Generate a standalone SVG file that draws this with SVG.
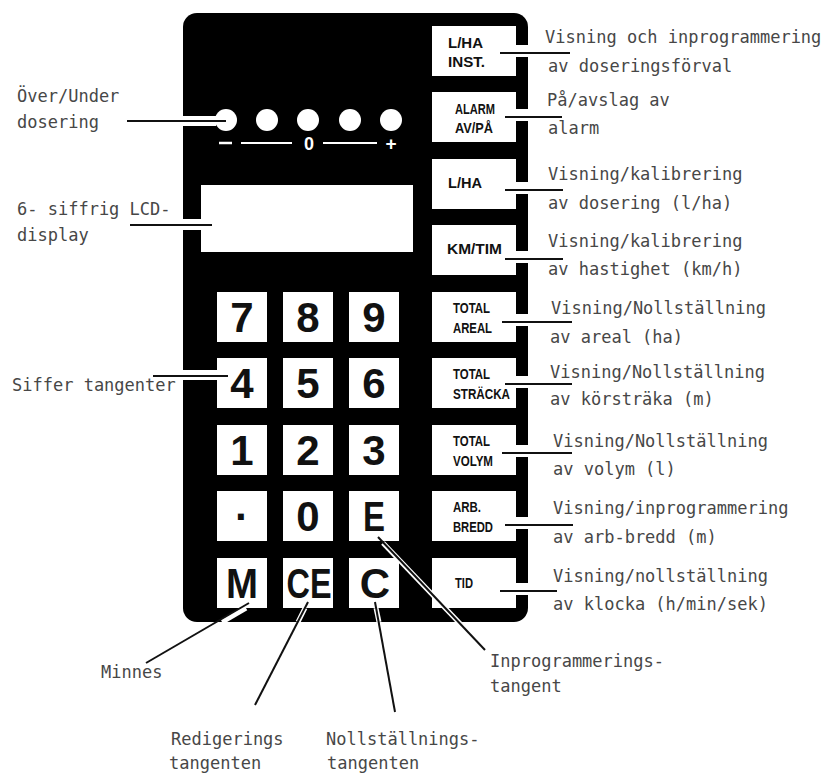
<svg xmlns="http://www.w3.org/2000/svg" width="830" height="773" viewBox="0 0 830 773">
<style>
.ann{font-family:"DejaVu Sans Mono","Liberation Mono",monospace;font-size:17px;fill:#474747}
.dig{font-family:"Liberation Sans",Arial,sans-serif;font-weight:bold;font-size:42px;fill:#111;text-anchor:middle}
.kl{font-family:"Liberation Sans",Arial,sans-serif;font-weight:bold;font-size:15px;fill:#111}
.key{fill:#fff}
.ln{stroke:#111;stroke-width:2;fill:none}
.halo{stroke:#fff;stroke-width:5;fill:none}
.sym{font-family:"Liberation Sans",Arial,sans-serif;font-weight:bold;fill:#fff;text-anchor:middle}
</style>
<rect width="830" height="773" fill="#fff"/>
<g id="panel">
<rect x="183" y="13" width="345" height="609" rx="14" ry="14" fill="#000"/>
</g>
<g id="leds">
<circle cx="226" cy="120" r="11" fill="#fff"/>
<circle cx="267" cy="120" r="11" fill="#fff"/>
<circle cx="308" cy="120" r="11" fill="#fff"/>
<circle cx="350" cy="120" r="11" fill="#fff"/>
<circle cx="391" cy="120" r="11" fill="#fff"/>
<line x1="219" y1="143" x2="232" y2="143" stroke="#fff" stroke-width="2.5"/>
<line x1="241" y1="143" x2="292" y2="143" stroke="#fff" stroke-width="2"/>
<text class="sym" x="309" y="150" font-size="18">0</text>
<line x1="323" y1="143" x2="377" y2="143" stroke="#fff" stroke-width="2"/>
<text class="sym" x="391" y="150" font-size="19">+</text>
</g>
<g id="lcd">
<rect x="201" y="185" width="212" height="67" fill="#fff"/>
</g>
<g id="keypad">
<rect class="key" x="217" y="292" width="50" height="50"/><text class="dig" x="242" y="332">7</text>
<rect class="key" x="283" y="292" width="50" height="50"/><text class="dig" x="308" y="332">8</text>
<rect class="key" x="349" y="292" width="50" height="50"/><text class="dig" x="374" y="332">9</text>
<rect class="key" x="217" y="358" width="50" height="50"/><text class="dig" x="242" y="398">4</text>
<rect class="key" x="283" y="358" width="50" height="50"/><text class="dig" x="308" y="398">5</text>
<rect class="key" x="349" y="358" width="50" height="50"/><text class="dig" x="374" y="398">6</text>
<rect class="key" x="217" y="425" width="50" height="50"/><text class="dig" x="242" y="465">1</text>
<rect class="key" x="283" y="425" width="50" height="50"/><text class="dig" x="308" y="465">2</text>
<rect class="key" x="349" y="425" width="50" height="50"/><text class="dig" x="374" y="465">3</text>
<rect class="key" x="217" y="491" width="50" height="50"/><text class="dig" x="242" y="531">·</text>
<rect class="key" x="283" y="491" width="50" height="50"/><text class="dig" x="308" y="531">0</text>
<rect class="key" x="349" y="491" width="50" height="50"/><text class="dig" x="374" y="531" textLength="22" lengthAdjust="spacingAndGlyphs">E</text>
<rect class="key" x="217" y="558" width="50" height="50"/><text class="dig" x="242" y="598" textLength="32" lengthAdjust="spacingAndGlyphs">M</text>
<rect class="key" x="283" y="558" width="50" height="50"/><text class="dig" x="309" y="598" textLength="45" lengthAdjust="spacingAndGlyphs">CE</text>
<rect class="key" x="349" y="558" width="50" height="50"/><text class="dig" x="375" y="598">C</text>
</g>
<g id="fkeys">
<rect class="key" x="432" y="26" width="84" height="50"/>
<text class="kl" x="448" y="48" textLength="35" lengthAdjust="spacingAndGlyphs">L/HA</text>
<text class="kl" x="448" y="67" textLength="37" lengthAdjust="spacingAndGlyphs">INST.</text>
<rect class="key" x="432" y="92" width="84" height="50"/>
<text class="kl" x="455" y="114" textLength="40" lengthAdjust="spacingAndGlyphs">ALARM</text>
<text class="kl" x="455" y="133" textLength="38" lengthAdjust="spacingAndGlyphs">AV/PÅ</text>
<rect class="key" x="432" y="159" width="84" height="50"/>
<text class="kl" x="448" y="188" textLength="34" lengthAdjust="spacingAndGlyphs">L/HA</text>
<rect class="key" x="432" y="225" width="84" height="50"/>
<text class="kl" x="447" y="254" textLength="55" lengthAdjust="spacingAndGlyphs">KM/TIM</text>
<rect class="key" x="432" y="292" width="84" height="50"/>
<text class="kl" x="453" y="313" textLength="37" lengthAdjust="spacingAndGlyphs">TOTAL</text>
<text class="kl" x="453" y="333" textLength="39" lengthAdjust="spacingAndGlyphs">AREAL</text>
<rect class="key" x="432" y="358" width="84" height="50"/>
<text class="kl" x="453" y="379" textLength="37" lengthAdjust="spacingAndGlyphs">TOTAL</text>
<text class="kl" x="453" y="399" textLength="57" lengthAdjust="spacingAndGlyphs">STRÄCKA</text>
<rect class="key" x="432" y="425" width="84" height="50"/>
<text class="kl" x="453" y="446" textLength="37" lengthAdjust="spacingAndGlyphs">TOTAL</text>
<text class="kl" x="453" y="466" textLength="40" lengthAdjust="spacingAndGlyphs">VOLYM</text>
<rect class="key" x="432" y="491" width="84" height="50"/>
<text class="kl" x="453" y="512" textLength="28" lengthAdjust="spacingAndGlyphs">ARB.</text>
<text class="kl" x="453" y="532" textLength="40" lengthAdjust="spacingAndGlyphs">BREDD</text>
<rect class="key" x="432" y="558" width="84" height="50"/>
<text class="kl" x="455" y="588" textLength="18" lengthAdjust="spacingAndGlyphs">TID</text>
</g>
<g id="connectors">
<rect x="183" y="116" width="33" height="10" fill="#fff"/>
<line class="ln" x1="127" y1="121" x2="226" y2="121"/>
<rect x="183" y="219" width="18" height="11" fill="#fff"/>
<line class="ln" x1="130" y1="225" x2="212" y2="225"/>
<rect x="183" y="370" width="34" height="10" fill="#fff"/>
<line class="ln" x1="153" y1="376" x2="228" y2="376"/>
<rect x="516" y="45" width="12" height="12" fill="#fff"/>
<line class="ln" x1="500" y1="53" x2="570" y2="53"/>
<rect x="516" y="109" width="12" height="12" fill="#fff"/>
<line class="ln" x1="505" y1="117" x2="562" y2="117"/>
<rect x="516" y="182" width="12" height="12" fill="#fff"/>
<line class="ln" x1="505" y1="190" x2="563" y2="190"/>
<rect x="516" y="251" width="12" height="12" fill="#fff"/>
<line class="ln" x1="505" y1="259" x2="563" y2="259"/>
<rect x="516" y="314" width="12" height="12" fill="#fff"/>
<line class="ln" x1="502" y1="322" x2="572" y2="322"/>
<rect x="516" y="376" width="12" height="12" fill="#fff"/>
<line class="ln" x1="505" y1="384" x2="572" y2="384"/>
<rect x="516" y="445" width="12" height="12" fill="#fff"/>
<line class="ln" x1="502" y1="453" x2="572" y2="453"/>
<rect x="516" y="517" width="12" height="12" fill="#fff"/>
<line class="ln" x1="505" y1="525" x2="573" y2="525"/>
<rect x="516" y="583" width="12" height="12" fill="#fff"/>
<line class="ln" x1="500" y1="591" x2="557" y2="591"/>
<line class="halo" x1="246" y1="608" x2="222" y2="622" stroke-width="4"/>
<line class="ln" x1="249" y1="603" x2="146" y2="663"/>
<line class="halo" x1="305" y1="608" x2="298" y2="622" stroke-width="4"/>
<line class="ln" x1="308" y1="602" x2="255" y2="705"/>
<line class="halo" x1="376" y1="608" x2="379" y2="622" stroke-width="4"/>
<line class="ln" x1="375" y1="602" x2="395" y2="712"/>
<line class="halo" x1="383" y1="543" x2="470" y2="634" stroke-width="4"/>
<line class="ln" x1="378" y1="537" x2="485" y2="650"/>
</g>
<g id="labels-left">
<text class="ann" x="17" y="102">Över/Under</text>
<text class="ann" x="17" y="128">dosering</text>
<text class="ann" x="17" y="215">6- siffrig LCD-</text>
<text class="ann" x="17" y="241">display</text>
<text class="ann" x="12" y="391">Siffer tangenter</text>
</g>
<g id="labels-right">
<text class="ann" x="545" y="43">Visning och inprogrammering</text>
<text class="ann" x="548" y="72">av doseringsförval</text>
<text class="ann" x="547" y="106">På/avslag av</text>
<text class="ann" x="548" y="134">alarm</text>
<text class="ann" x="548" y="180">Visning/kalibrering</text>
<text class="ann" x="548" y="209">av dosering (l/ha)</text>
<text class="ann" x="548" y="247">Visning/kalibrering</text>
<text class="ann" x="548" y="275">av hastighet (km/h)</text>
<text class="ann" x="551" y="314">Visning/Nollställning</text>
<text class="ann" x="550" y="343">av areal (ha)</text>
<text class="ann" x="550" y="378">Visning/Nollställning</text>
<text class="ann" x="550" y="405">av körsträka (m)</text>
<text class="ann" x="553" y="447">Visning/Nollställning</text>
<text class="ann" x="553" y="475">av volym (l)</text>
<text class="ann" x="553" y="514">Visning/inprogrammering</text>
<text class="ann" x="553" y="543">av arb-bredd (m)</text>
<text class="ann" x="553" y="582">Visning/nollställning</text>
<text class="ann" x="553" y="610">av klocka (h/min/sek)</text>
</g>
<g id="labels-bottom">
<text class="ann" x="101" y="678">Minnes</text>
<text class="ann" x="171" y="745">Redigerings</text>
<text class="ann" x="169" y="769">tangenten</text>
<text class="ann" x="326" y="745">Nollställnings-</text>
<text class="ann" x="327" y="769">tangenten</text>
<text class="ann" x="490" y="667">Inprogrammerings-</text>
<text class="ann" x="490" y="692">tangent</text>
</g>
</svg>
